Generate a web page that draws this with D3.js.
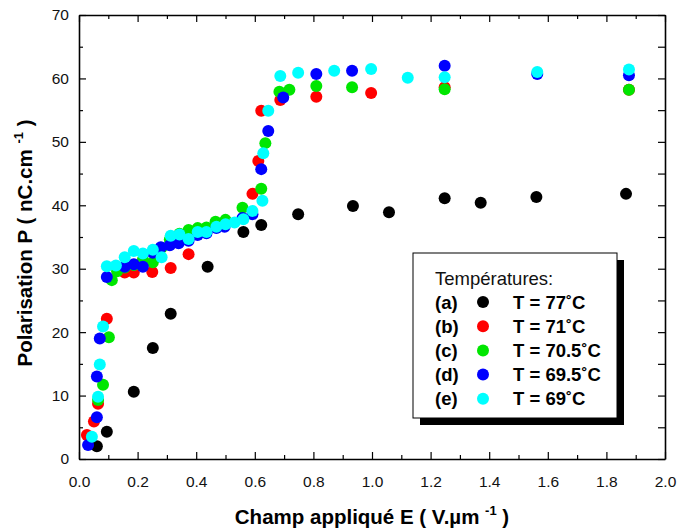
<!DOCTYPE html>
<html>
<head>
<meta charset="utf-8">
<script src="https://cdn.jsdelivr.net/npm/d3@7"></script>
<style>
    body { margin: 0; background: white; }
    svg { display: block; font-family: 'Liberation Sans', Arial, sans-serif; }
</style>
</head>
<body>
<div id="chart"></div>
<script>
const [WIDTH, HEIGHT] = [677, 530];
const MARGIN = { left: 79, right: 12, top: 15, bottom: 71 };

// series (a) T = 77 C
const fieldA = [0.061, 0.095, 0.187, 0.252, 0.313, 0.439, 0.561, 0.622, 0.748, 0.935, 1.058, 1.248, 1.371, 1.561, 1.867];
const polA = [2.0, 4.3, 10.6, 17.5, 22.9, 30.3, 35.8, 36.9, 38.6, 39.9, 38.9, 41.1, 40.4, 41.3, 41.8];

// series (b) T = 71 C
const fieldB = [0.027, 0.051, 0.065, 0.095, 0.156, 0.187, 0.250, 0.313, 0.374, 0.592, 0.612, 0.622, 0.687, 0.810, 0.997, 1.248, 1.877];
const polB = [3.8, 5.9, 8.7, 22.1, 29.4, 29.4, 29.5, 30.1, 32.3, 41.8, 47.0, 54.9, 56.6, 57.1, 57.7, 58.6, 58.2];

// series (c) T = 70.5 C
const fieldC = [0.065, 0.082, 0.102, 0.112, 0.130, 0.156, 0.187, 0.218, 0.252, 0.282, 0.310, 0.343, 0.374, 0.405, 0.435, 0.466, 0.500, 0.558, 0.622, 0.636, 0.684, 0.718, 0.810, 0.932, 1.248, 1.877];
const polC = [9.3, 11.7, 19.2, 28.2, 29.6, 30.2, 30.6, 31.4, 31.0, 33.3, 34.6, 35.5, 36.1, 36.4, 36.5, 37.4, 37.7, 39.6, 42.6, 49.8, 57.9, 58.2, 58.8, 58.6, 58.3, 58.2];

// series (d) T = 69.5 C
const fieldD = [0.031, 0.061, 0.061, 0.071, 0.095, 0.156, 0.187, 0.218, 0.252, 0.279, 0.310, 0.340, 0.374, 0.405, 0.435, 0.469, 0.497, 0.558, 0.592, 0.622, 0.646, 0.697, 0.810, 0.932, 1.248, 1.564, 1.877];
const polD = [2.2, 6.6, 13.0, 19.0, 28.7, 30.3, 30.7, 30.3, 32.5, 33.4, 33.7, 34.0, 34.4, 35.3, 35.6, 36.4, 36.6, 38.0, 38.6, 45.7, 51.7, 57.0, 60.7, 61.2, 62.0, 60.7, 60.5];

// series (e) T = 69 C
const fieldE = [0.044, 0.065, 0.071, 0.082, 0.095, 0.126, 0.156, 0.187, 0.218, 0.252, 0.282, 0.313, 0.343, 0.374, 0.405, 0.435, 0.469, 0.500, 0.531, 0.561, 0.592, 0.626, 0.629, 0.646, 0.687, 0.748, 0.871, 0.997, 1.122, 1.248, 1.564, 1.877];
const polE = [3.5, 9.8, 14.9, 20.9, 30.4, 30.5, 31.8, 32.8, 32.4, 33.0, 31.8, 35.2, 35.4, 34.7, 35.8, 35.8, 36.6, 37.0, 37.3, 37.8, 39.1, 40.7, 48.2, 54.9, 60.4, 60.9, 61.2, 61.5, 60.1, 60.2, 61.0, 61.4];

const seriesLetters = ['(a)', '(b)', '(c)', '(d)', '(e)'];
const seriesTemps = ['T = 77˚C', 'T = 71˚C', 'T = 70.5˚C', 'T = 69.5˚C', 'T = 69˚C'];
const xTickValues = [0, 0.2, 0.4, 0.6, 0.8, 1.0, 1.2, 1.4, 1.6, 1.8, 2.0];
const yTickValues = [0, 10, 20, 30, 40, 50, 60, 70];

const SERIES_COLORS = ['black', '#ff0000', '#00e600', '#0000ff', '#00ffff'];
const DOT_RADIUS = 6;

const series = [
    [fieldA, polA], [fieldB, polB], [fieldC, polC], [fieldD, polD], [fieldE, polE],
].map(([xs, ys], i) => ({
    letter: seriesLetters[i],
    temp: seriesTemps[i],
    color: SERIES_COLORS[i],
    points: xs.map((x, j) => ({ x: x, y: ys[j] })),
}));

const svg = d3.select('#chart').append('svg')
    .attr('width', WIDTH)
    .attr('height', HEIGHT)

const x = d3.scaleLinear().domain([0, 2]).range([MARGIN.left, WIDTH - MARGIN.right]);
const y = d3.scaleLinear().domain([0, 70]).range([HEIGHT - MARGIN.bottom, MARGIN.top]);

drawAxes();
drawPoints();
drawLegend();

function drawAxes() {
    const xMinor = d3.range(0.1, 2, 0.2);
    const yMinor = d3.range(5, 70, 10);

    // bottom axis with labels, ticks inward
    const bottom = svg.append('g')
        .attr('transform', `translate(0, ${y(0)})`)
        .call(d3.axisBottom(x).tickValues(xTickValues).tickFormat(d3.format('.1f'))
            .tickSizeInner(-7).tickSizeOuter(0).tickPadding(17))
    bottom.append('g')
        .call(d3.axisBottom(x).tickValues(xMinor).tickFormat('').tickSizeInner(-4).tickSizeOuter(0))
        .select('.domain').remove()

    const top = svg.append('g')
        .attr('transform', `translate(0, ${y(70)})`)
        .call(d3.axisTop(x).tickValues(xTickValues).tickFormat('').tickSizeInner(-7).tickSizeOuter(0))
    top.append('g')
        .call(d3.axisTop(x).tickValues(xMinor).tickFormat('').tickSizeInner(-4).tickSizeOuter(0))
        .select('.domain').remove()

    const left = svg.append('g')
        .attr('transform', `translate(${x(0)}, 0)`)
        .call(d3.axisLeft(y).tickValues(yTickValues).tickFormat(d3.format('d'))
            .tickSizeInner(-7).tickSizeOuter(0).tickPadding(10))
    left.append('g')
        .call(d3.axisLeft(y).tickValues(yMinor).tickFormat('').tickSizeInner(-4).tickSizeOuter(0))
        .select('.domain').remove()

    const right = svg.append('g')
        .attr('transform', `translate(${x(2)}, 0)`)
        .call(d3.axisRight(y).tickValues(yTickValues).tickFormat('').tickSizeInner(-7).tickSizeOuter(0))
    right.append('g')
        .call(d3.axisRight(y).tickValues(yMinor).tickFormat('').tickSizeInner(-7).tickSizeOuter(0))
        .select('.domain').remove()

    svg.selectAll('.domain')
        .attr('stroke', 'black')
        .attr('stroke-width', 1.6)
    svg.selectAll('.tick line')
        .attr('stroke', 'black')
        .attr('stroke-width', 1.2)
    svg.selectAll('.tick text')
        .attr('font-family', "'Liberation Sans', Arial, sans-serif")
        .attr('font-size', 15.5)
        .attr('fill', '#111')

    // axis titles
    const xTitle = svg.append('text')
        .attr('x', 372)
        .attr('y', 524)
        .attr('text-anchor', 'middle')
        .attr('font-size', 20.5)
        .attr('font-weight', 'bold')
    xTitle.append('tspan').text('Champ appliqué E ( V.µm ')
    xTitle.append('tspan').attr('dy', -9).attr('font-size', 13).text('-1')
    xTitle.append('tspan').attr('dy', 9).text(' )')

    const yTitle = svg.append('text')
        .attr('transform', `translate(32, 243) rotate(-90)`)
        .attr('text-anchor', 'middle')
        .attr('font-size', 20.5)
        .attr('font-weight', 'bold')
    yTitle.append('tspan').text('Polarisation P ( nC.cm ')
    yTitle.append('tspan').attr('dy', -9).attr('font-size', 13).text('-1')
    yTitle.append('tspan').attr('dy', 9).text(' )')
}

function drawPoints() {
    const groups = svg.selectAll('.series')
        .data(series)
        .enter()
        .append('g')
        .attr('class', 'series')
        .attr('fill', (d) => d.color)

    groups.selectAll('circle')
        .data((d) => d.points)
        .enter()
        .append('circle')
        .attr('cx', (d) => x(d.x))
        .attr('cy', (d) => y(d.y))
        .attr('r', DOT_RADIUS)
}

function drawLegend() {
    const box = { x: 413, y: 253, w: 204, h: 165 };
    const legend = svg.append('g')
        .attr('class', 'legend')
        .attr('transform', `translate(${box.x}, ${box.y})`)

    legend.append('rect')
        .attr('x', 7).attr('y', 7)
        .attr('width', box.w).attr('height', box.h)
        .attr('fill', 'black')
    legend.append('rect')
        .attr('width', box.w).attr('height', box.h)
        .attr('fill', 'white')
        .attr('stroke', 'black')
        .attr('stroke-width', 1)

    legend.append('text')
        .attr('x', 22).attr('y', 32)
        .attr('font-size', 18.5)
        .attr('fill', '#111')
        .text('Températures:')

    const rows = legend.selectAll('.row')
        .data(series)
        .enter()
        .append('g')
        .attr('class', 'row')
        .attr('transform', (d, i) => `translate(0, ${49 + i * 24.2})`)

    rows.append('text')
        .attr('x', 22).attr('y', 6.5)
        .attr('font-size', 18.5)
        .attr('font-weight', 'bold')
        .text((d) => d.letter)
    rows.append('circle')
        .attr('cx', 70).attr('cy', 0)
        .attr('r', DOT_RADIUS)
        .attr('fill', (d) => d.color)
    rows.append('text')
        .attr('x', 100).attr('y', 6.5)
        .attr('font-size', 18.5)
        .attr('font-weight', 'bold')
        .text((d) => d.temp)
}
</script>
</body>
</html>
